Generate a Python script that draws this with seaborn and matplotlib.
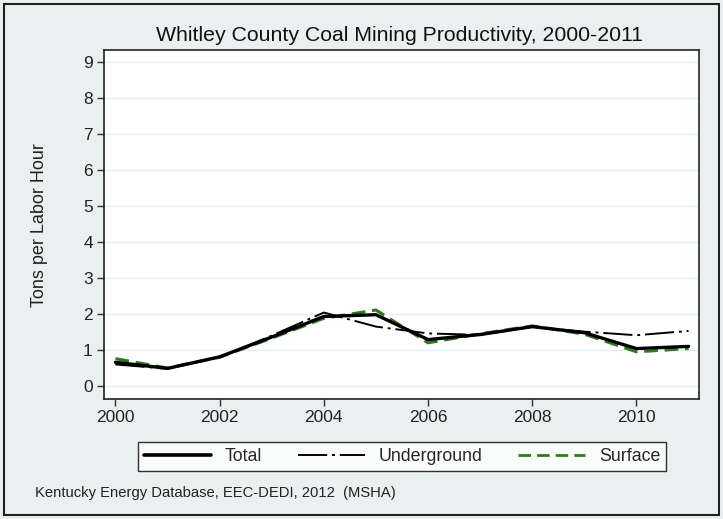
import matplotlib
matplotlib.use("Agg")
import matplotlib.pyplot as plt
import seaborn as sns
import pandas as pd
from matplotlib.patches import Rectangle
from matplotlib.lines import Line2D

years = [2000, 2001, 2002, 2003, 2004, 2005, 2006, 2007, 2008, 2009, 2010, 2011]
total = [0.66, 0.49, 0.81, 1.36, 1.93, 1.98, 1.29, 1.43, 1.65, 1.48, 1.04, 1.10]
underground = [0.60, 0.48, 0.80, 1.40, 2.04, 1.65, 1.46, 1.42, 1.64, 1.51, 1.41, 1.53]
surface = [0.76, 0.50, 0.80, 1.33, 1.88, 2.11, 1.20, 1.45, 1.67, 1.44, 0.95, 1.04]
yticks = [0, 1, 2, 3, 4, 5, 6, 7, 8, 9]
xticks = [2000, 2002, 2004, 2006, 2008, 2010]

BG = "#eaf0f0"
GREEN = "#2f7a1f"
DASHDOT = (15, 2.5, 1.5, 2.5)
DASH = (4.5, 2.2)

sns.set_style("white")
plt.rcParams["font.family"] = ["Liberation Sans", "DejaVu Sans"]

fig = plt.figure(figsize=(7.23, 5.19), dpi=100, facecolor=BG)
ax = fig.add_axes([0.1438, 0.2312, 0.8230, 0.6719])
ax.set_facecolor("white")

df = pd.DataFrame({"year": years, "Total": total, "Underground": underground, "Surface": surface})

for y in yticks:
    ax.axhline(y, color="#e6eff1", lw=1.0, zorder=0)

sns.lineplot(data=df, x="year", y="Underground", ax=ax, color="black", lw=1.4,
             legend=False)
ax.lines[-1].set_dashes(DASHDOT)
sns.lineplot(data=df, x="year", y="Surface", ax=ax, color=GREEN, lw=2.2, legend=False)
ax.lines[-1].set_dashes(DASH)
sns.lineplot(data=df, x="year", y="Total", ax=ax, color="black", lw=2.4, legend=False)

ax.set_xlim(1999.78, 2011.2)
ax.set_ylim(-0.36, 9.32)
ax.set_xticks(xticks)
ax.set_yticks(yticks)
ax.tick_params(axis="both", which="both", direction="out", length=5, width=1,
               color="#333333", labelsize=12.5, labelcolor="#222222", pad=3,
               left=True, bottom=True)
for s in ax.spines.values():
    s.set_color("#222222")
    s.set_linewidth(1.2)
ax.set_xlabel("")
ax.set_ylabel("Tons per Labor Hour", fontsize=13, color="#222222", labelpad=25)

fig.text(0.553, 0.932, "Whitley County Coal Mining Productivity, 2000-2011",
         ha="center", va="center", fontsize=15.3, color="#111111")

handles = [
    Line2D([], [], color="black", lw=2.6),
    Line2D([], [], color="black", lw=1.4, dashes=DASHDOT),
    Line2D([], [], color=GREEN, lw=2.0, dashes=DASH),
]
leg = fig.legend(handles, ["Total", "Underground", "Surface"], ncol=3,
                 loc="center", bbox_to_anchor=(0.556, 0.120), frameon=True,
                 fancybox=False, edgecolor="black", facecolor="white",
                 fontsize=12.8, handlelength=3.8, columnspacing=2.0,
                 handletextpad=0.75, borderpad=0.35)
leg.get_frame().set_linewidth(1.0)

fig.text(0.049, 0.051, "Kentucky Energy Database, EEC-DEDI, 2012  (MSHA)",
         ha="left", va="center", fontsize=10.6, color="#222222")

fig.patches.append(Rectangle((0.006, 0.008), 0.988, 0.984, transform=fig.transFigure,
                             fill=False, edgecolor="#222222", lw=1.5))

fig.savefig("out.png", dpi=100, facecolor=BG)
